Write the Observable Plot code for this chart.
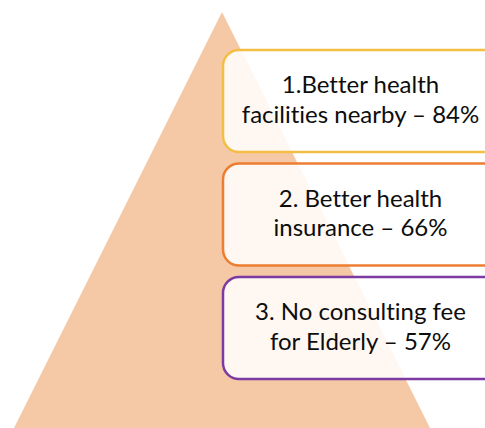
<!DOCTYPE html>
<html>
<head>
<meta charset="utf-8">
<script src="https://cdn.jsdelivr.net/npm/d3@7"></script>
<script src="https://cdn.jsdelivr.net/npm/@observablehq/plot@0.6"></script>
<style>
  html, body { margin: 0; padding: 0; background: #ffffff; }
  #chart svg { display: block; }
  #chart text { font-variant-ligatures: none; font-feature-settings: "liga" 0, "clig" 0; }
</style>
</head>
<body>
<div id="chart"></div>
<script>
// Items of the pyramid (top to bottom)
const ranks = [1, 2, 3];
const firstLines = ["1.Better health", "2. Better health", "3. No consulting fee"];
const secondLines = ["facilities nearby", "insurance", "for Elderly"];
const percents = [84, 66, 57];
const borderColors = ["#F2BE45", "#ED7D31", "#7E3AA3"];

// Pyramid outline (diagram coordinates)
const pyramidX = [14, 222, 430];
const pyramidY = [428, 12, 428];

const W = 485, H = 428;

const pyramid = pyramidX.map((x, i) => ({x, y: pyramidY[i]}));
const items = ranks.map((r, i) => ({
  rank: r,
  label: firstLines[i] + "\n" + secondLines[i] + " – " + percents[i] + "%",
  color: borderColors[i]
}));

// layout of boxes derived from rank
const boxLeft = 223, boxRight = 545, boxTop0 = 50, boxStep = 113.5, boxH = 102;
const boxTop = d => boxTop0 + (d.rank - 1) * boxStep;

const chart = Plot.plot({
  width: W,
  height: H,
  margin: 0,
  x: {domain: [0, W], range: [0, W], axis: null},
  y: {domain: [0, H], range: [0, H], axis: null},
  color: {type: "identity"},
  style: {background: "#ffffff", fontFamily: "Lato, 'Open Sans', sans-serif"},
  marks: [
    Plot.area(pyramid, {x1: "x", y1: H, y2: "y", fill: "#F5C9A6"}),
    Plot.rect(items, {
      x1: boxLeft, x2: boxRight,
      y1: d => boxTop(d), y2: d => boxTop(d) + boxH,
      rx: 16,
      fill: "#ffffff", fillOpacity: 0.85,
      stroke: "color", strokeWidth: 2.5
    }),
    Plot.text(items, {
      x: 360,
      y: d => boxTop(d) + boxH / 2 - 3,
      text: "label",
      fontSize: 24,
      lineHeight: 1.22,
      fill: "#0d0d0d",
      textAnchor: "middle"
    })
  ]
});

document.getElementById("chart").appendChild(chart);
</script>
</body>
</html>
